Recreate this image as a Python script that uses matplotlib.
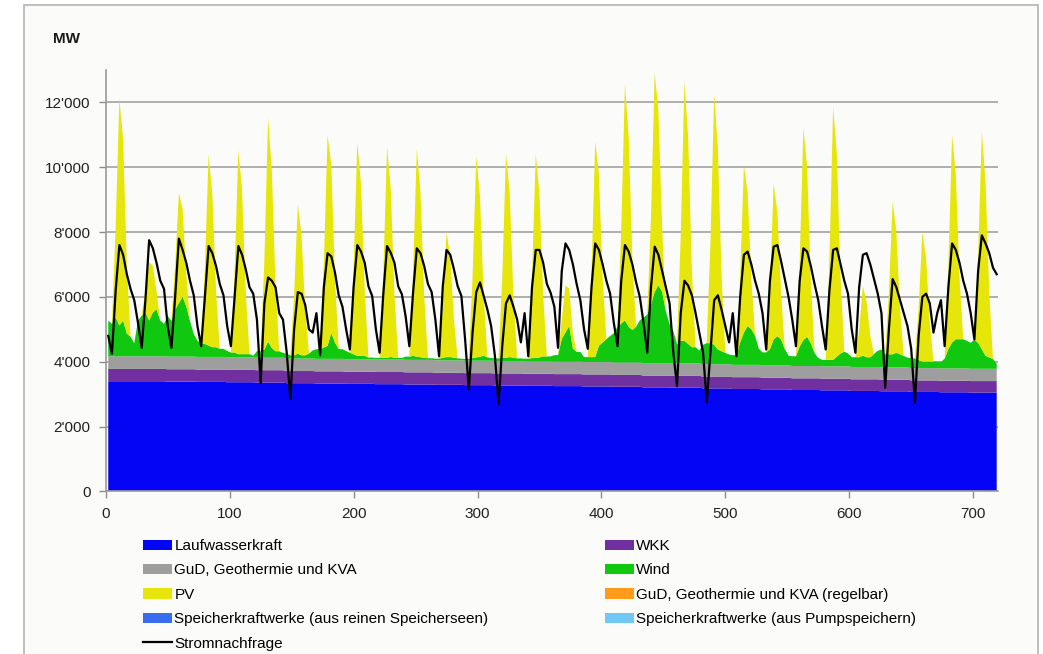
import numpy as np
import matplotlib
matplotlib.use('Agg')
import matplotlib.pyplot as plt
from matplotlib.patches import Rectangle

sample_hours = [2, 5, 8, 11, 14, 17, 20, 23]

# daily levels of the base load (MW)
lauf_day = [3400, 3400, 3390, 3380, 3370, 3360, 3340, 3330, 3320, 3310,
            3300, 3290, 3280, 3270, 3260, 3250, 3240, 3230, 3210, 3200,
            3180, 3160, 3150, 3130, 3120, 3100, 3090, 3070, 3060, 3050]
wkk_day = [380, 380, 380, 380, 380, 380, 375, 375, 375, 375,
           375, 370, 370, 370, 370, 370, 370, 365, 365, 365,
           365, 365, 360, 360, 360, 360, 360, 355, 355, 355]
gud_day = [390, 390, 390, 390, 385, 385, 385, 385, 385, 385,
           385, 385, 385, 385, 385, 385, 385, 385, 385, 385,
           380, 380, 380, 380, 380, 380, 380, 380, 380, 380]

# wind per day at the sample hours
wind = [
    [1100, 1000, 1200, 950, 1100, 700, 600, 400],
    [1100, 1250, 1350, 1100, 1350, 1450, 1100, 1000],
    [1250, 1100, 1450, 1650, 1850, 1550, 1100, 700],
    [500, 400, 400, 350, 300, 300, 250, 250],
    [200, 150, 150, 100, 100, 100, 100, 50],
    [200, 200, 250, 500, 300, 200, 200, 150],
    [150, 100, 100, 150, 100, 100, 150, 250],
    [300, 300, 350, 400, 800, 500, 300, 300],
    [250, 200, 150, 100, 100, 100, 50, 50],
    [50, 50, 50, 50, 80, 50, 50, 50],
    [100, 100, 120, 100, 80, 60, 50, 50],
    [50, 50, 80, 100, 100, 80, 60, 50],
    [50, 50, 80, 100, 120, 150, 100, 80],
    [80, 80, 100, 100, 120, 100, 80, 80],
    [80, 80, 100, 100, 120, 150, 150, 150],
    [200, 200, 700, 900, 1100, 400, 300, 300],
    [150, 150, 150, 150, 500, 600, 700, 800],
    [900, 1100, 1200, 1300, 1100, 1000, 1100, 1300],
    [1400, 1500, 1800, 2200, 2400, 2200, 1600, 1200],
    [1000, 600, 700, 700, 600, 500, 500, 400],
    [600, 650, 650, 600, 450, 400, 350, 300],
    [300, 300, 700, 1000, 1200, 1100, 900, 500],
    [400, 400, 500, 800, 900, 800, 500, 300],
    [300, 300, 600, 800, 900, 700, 400, 250],
    [200, 200, 200, 200, 300, 400, 450, 400],
    [300, 300, 300, 350, 300, 300, 400, 500],
    [550, 400, 400, 400, 450, 400, 350, 300],
    [300, 300, 250, 200, 200, 200, 200, 200],
    [200, 300, 600, 800, 900, 900, 900, 850],
    [800, 900, 800, 600, 400, 350, 300, 150],
]

# PV per day at 8h, 11h, 14h, 17h (zero at night)
pv_day = [
    [2800, 7000, 5600, 2100], [700, 1800, 1450, 550], [1350, 3400, 2700, 1000],
    [2350, 5900, 4700, 1750], [2500, 6300, 5050, 1900], [2750, 6900, 5500, 2050],
    [1850, 4600, 3700, 1400], [2600, 6500, 5200, 1950], [2650, 6600, 5300, 2000],
    [2600, 6500, 5200, 1950], [2550, 6400, 5100, 1900], [1550, 3850, 3100, 1150],
    [2500, 6200, 4950, 1850], [2500, 6300, 5050, 1900], [2500, 6300, 5050, 1900],
    [600, 1450, 1150, 450], [2650, 6650, 5300, 2000], [2900, 7300, 5850, 2200],
    [2700, 6750, 5400, 2000], [3200, 8000, 6400, 2400], [3100, 7750, 6200, 2300],
    [2050, 5150, 4100, 1550], [1900, 4800, 3850, 1450], [2600, 6550, 5250, 1950],
    [3100, 7800, 6250, 2350], [850, 2150, 1700, 650], [1900, 4700, 3750, 1400],
    [1600, 4000, 3200, 1200], [2550, 6400, 5100, 1900], [2700, 6700, 5350, 2000],
]

# demand per day at the sample hours
demand = [
    [4800, 4250, 6200, 7600, 7300, 6700, 6250, 5900],
    [5200, 4430, 5900, 7750, 7500, 7050, 6500, 6250],
    [5100, 4430, 6000, 7800, 7450, 7050, 6500, 6050],
    [5100, 4480, 6000, 7570, 7350, 6950, 6400, 6050],
    [5100, 4480, 6000, 7570, 7300, 6850, 6300, 6100],
    [5300, 3350, 5800, 6600, 6500, 6300, 5500, 5300],
    [4300, 2850, 5000, 6150, 6100, 5750, 5000, 4900],
    [5500, 4200, 6300, 7350, 7250, 6750, 6050, 5700],
    [5000, 4380, 6300, 7600, 7400, 7050, 6330, 6030],
    [5000, 4280, 6100, 7570, 7360, 7050, 6330, 6080],
    [5400, 4480, 6130, 7500, 7350, 6950, 6400, 6150],
    [5300, 4170, 6330, 7450, 7300, 6850, 6330, 6030],
    [4690, 3150, 4900, 6150, 6450, 6030, 5610, 5100],
    [4200, 2700, 4500, 5800, 6050, 5700, 5300, 4600],
    [5500, 4170, 6300, 7450, 7450, 7050, 6400, 6130],
    [5700, 4430, 6800, 7650, 7450, 7000, 6400, 5900],
    [5000, 4400, 6300, 7650, 7450, 7000, 6500, 6100],
    [5200, 4480, 6500, 7600, 7400, 7000, 6450, 6000],
    [5200, 4280, 6300, 7550, 7300, 6800, 6300, 5800],
    [4300, 3250, 5500, 6500, 6350, 6050, 5500, 4900],
    [4300, 2750, 4300, 5900, 6050, 5600, 5100, 4600],
    [5500, 4170, 6000, 7300, 7400, 7000, 6500, 6100],
    [5500, 4380, 6500, 7550, 7600, 7100, 6550, 6000],
    [5300, 4480, 6500, 7500, 7400, 6950, 6400, 5900],
    [5100, 4380, 6200, 7450, 7500, 7000, 6500, 6100],
    [5000, 4280, 6300, 7300, 7350, 7000, 6550, 6100],
    [5500, 3200, 5000, 6550, 6300, 5900, 5500, 5100],
    [4400, 2750, 4800, 6000, 6100, 5800, 4900, 5500],
    [5900, 4480, 6300, 7650, 7450, 7050, 6500, 6100],
    [5500, 4690, 6800, 7900, 7650, 7350, 6900, 6700],
]

labels = ['Laufwasserkraft', 'WKK', 'GuD, Geothermie und KVA', 'Wind', 'PV',
          'GuD, Geothermie und KVA (regelbar)',
          'Speicherkraftwerke (aus reinen Speicherseen)',
          'Speicherkraftwerke (aus Pumpspeichern)']
colors = ['#0505f5', '#7030a0', '#9e9e9e', '#10c810', '#e6e60a',
          '#ff9a1a', '#3a6cf0', '#70c8f5']

ndays = len(lauf_day)
hours = (np.arange(ndays)[:, None] * 24 + np.array(sample_hours)).ravel()
lauf = np.repeat(lauf_day, 8)
wkk = np.repeat(wkk_day, 8)
gud = np.repeat(gud_day, 8)
pv = np.zeros((ndays, 8))
pv[:, 2:6] = pv_day
zero = np.zeros(len(hours))

plt.rcParams['font.family'] = ['Liberation Sans', 'DejaVu Sans']

fig = plt.figure(figsize=(10.43, 6.54), dpi=100)
fig.patches.append(Rectangle((24 / 1043, -0.02), (1038 - 24) / 1043, 1 - 5 / 654 + 0.02,
                             transform=fig.transFigure, facecolor='#fbfbfa',
                             edgecolor='#b4b4b4', lw=1.2, zorder=-1))

ax = fig.add_axes([0.1014, 0.2485, 0.8554, 0.6445])
ax.set_facecolor('none')

polys = ax.stackplot(hours, lauf, wkk, gud, np.ravel(wind), pv.ravel(), zero, zero, zero,
                     labels=labels, colors=colors, linewidth=0)
line, = ax.plot(hours, np.ravel(demand), color='black', lw=1.6, label='Stromnachfrage')

ax.set_xlim(0, 720)
ax.set_ylim(0, 13000)
ax.set_xticks(range(0, 701, 100))
yt = range(0, 12001, 2000)
ax.set_yticks(yt)
ax.set_yticklabels([f"{v:,}".replace(',', "'") for v in yt])
ax.tick_params(axis='both', colors='#8c8c8c', labelcolor='#222222', labelsize=11,
               length=5, width=1, pad=6)
for s in ['top', 'right']:
    ax.spines[s].set_visible(False)
for s in ['left', 'bottom']:
    ax.spines[s].set_color('#9a9a9a')
    ax.spines[s].set_linewidth(1.2)
ax.yaxis.grid(True, color='#a8a8a8', lw=1.3)
ax.set_axisbelow(True)

fig.text(66 / 1043, 1 - 39 / 654, 'MW', ha='center', va='center',
         fontsize=11, fontweight='bold', color='#1a1a1a')

leg_kw = dict(loc='upper left', frameon=False, borderpad=0, borderaxespad=0,
              handlelength=1.9, handleheight=0.65, handletextpad=0.15,
              labelspacing=0.68, fontsize=11)
left = [polys[0], polys[2], polys[4], polys[6], line]
right = [polys[1], polys[3], polys[5], polys[7]]
fig.legend(handles=left, labels=[h.get_label() for h in left],
           bbox_to_anchor=(143 / 1043, 1 - 539 / 654), **leg_kw)
fig.legend(handles=right, labels=[h.get_label() for h in right],
           bbox_to_anchor=(605 / 1043, 1 - 539 / 654), **leg_kw)

fig.savefig('out.png', dpi=100, facecolor='white')
